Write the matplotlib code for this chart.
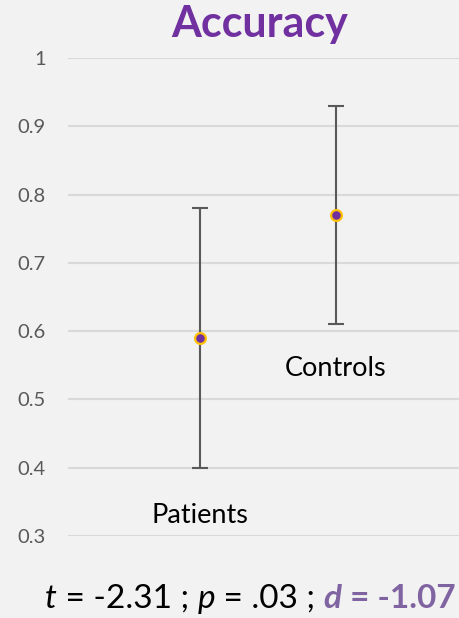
import matplotlib
matplotlib.use("Agg")
import matplotlib.pyplot as plt

groups = ["Patients", "Controls"]
means = [0.59, 0.77]
errors = [0.19, 0.16]
label_y = [0.33, 0.545]
yticks = [0.3, 0.4, 0.5, 0.6, 0.7, 0.8, 0.9, 1.0]
ytick_labels = ["0.3", "0.4", "0.5", "0.6", "0.7", "0.8", "0.9", "1"]
title = "Accuracy"
stat_parts = [("t", "italic", "normal", "black"), (" = -2.31 ; ", "normal", "normal", "black"),
              ("p", "italic", "normal", "black"), (" = .03 ; ", "normal", "normal", "black"),
              ("d", "italic", "bold", "#8064A2"), (" = -1.07", "normal", "bold", "#8064A2")]

plt.rcParams['font.family'] = ['Lato', 'DejaVu Sans']
bg = "#F2F2F2"
fig = plt.figure(figsize=(4.6, 6.18), dpi=100, facecolor=bg)
# axes: left at 68px, right at 460, top y=58 (1.0), bottom y=536 (0.3)
ax = fig.add_axes([68/460, 1-536/618, 1-68/460, (536-58)/618], facecolor=bg)
xpos = [1, 2]
ax.set_xlim(1 - (200-68)/136, 1 + (460-200)/136)
ax.set_ylim(0.3, 1.0)
ax.errorbar(xpos, means, yerr=errors, fmt='none', ecolor="#595959", elinewidth=1.5,
            capsize=6, capthick=1.5, zorder=3)
ax.scatter(xpos, means, s=60, c="#7030A0", edgecolors="#FFC000", linewidths=1.6, zorder=4)
for x, g, ly in zip(xpos, groups, label_y):
    ax.text(x, ly, g, ha='center', va='center', fontsize=19.5, color='black')
ax.set_yticks(yticks)
ax.set_yticklabels(ytick_labels)
ax.tick_params(axis='y', length=0, pad=16, labelsize=14.5, labelcolor="#595959")
ax.set_xticks([])
ax.grid(axis='y', color="#D9D9D9", linewidth=1.5)
ax.set_axisbelow(True)
for s in ax.spines.values():
    s.set_visible(False)

fig.text(260/460, 1-37/618, title, ha='center', va='baseline', fontsize=31,
         fontweight='bold', color="#7030A0")

# bottom statistics line, pieces laid out sequentially
fig.canvas.draw()
renderer = fig.canvas.get_renderer()
x = 45
ybase = 1 - 608/618
for txt, style, weight, col in stat_parts:
    t = fig.text(x/460, ybase, txt, ha='left', va='baseline', fontsize=24,
                 fontstyle=style, fontweight=weight, color=col)
    bb = t.get_window_extent(renderer=renderer)
    x += bb.width

fig.savefig("out.png", dpi=100, facecolor=bg)
